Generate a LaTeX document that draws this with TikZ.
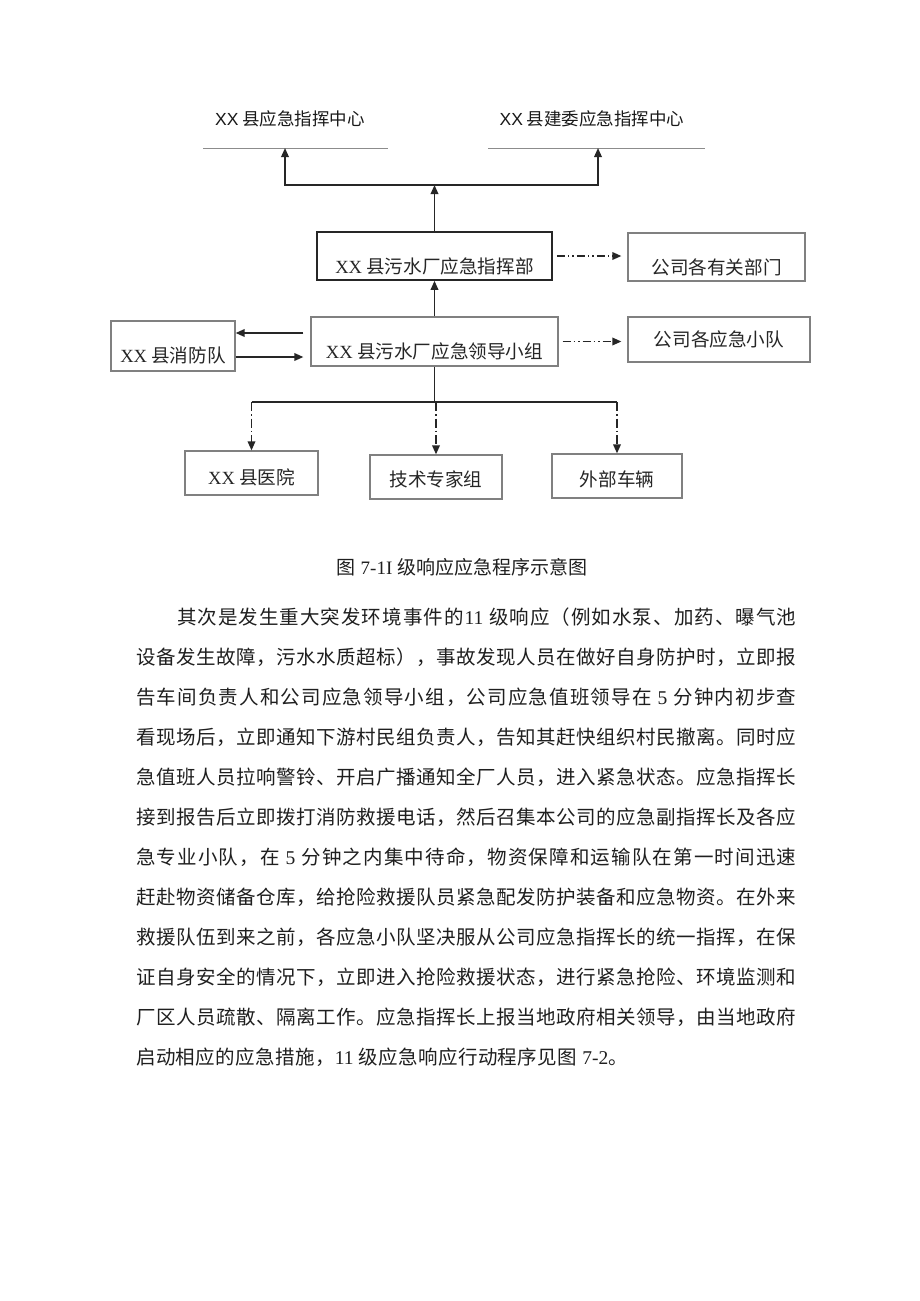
\documentclass[tikz,border=0pt]{standalone}
\usepackage{fontspec}
\newfontfamily\cjk{Noto Sans CJK SC}
\newfontfamily\lat{Liberation Serif}
\newfontfamily\lsans{Liberation Sans}
\usetikzlibrary{arrows.meta,calc}
\def\spread#1{\spreadA#1\relax}
\def\spreadA#1{#1\spreadB}
\def\spreadB#1{\ifx\relax#1\else\hfil#1\expandafter\spreadB\fi}
\tikzset{
  box/.style={draw=black!50, line width=1.2pt, inner sep=0pt},
  cmdbox/.style={draw=black!85, line width=1.6pt, inner sep=0pt},
  boxtxt/.style={font=\fontsize{18.6}{20}\selectfont\cjk, text=black!85},
  toplbl/.style={font=\fontsize{17.5}{20}\selectfont\cjk, text=black!90, inner sep=0pt},
  grayline/.style={draw=black!45, line width=0.9pt},
  line/.style={draw=black!85, line width=1.7pt},
  arr/.style={line, -{Triangle[length=9pt,width=7.5pt]}},
  dasharr/.style={arr, dash pattern=on 8pt off 3pt on 1.5pt off 3pt on 1.5pt off 3pt},
  vdash/.style={arr, dash pattern=on 9pt off 3pt on 1.5pt off 3pt},
  body/.style={font=\fontsize{19.5}{20}\selectfont\cjk, text=black!88, inner sep=0pt, anchor=west},
}
\begin{document}
\begin{tikzpicture}[x=1pt,y=-1pt]
\useasboundingbox[fill=white] (0,0) rectangle (920,1301);
% top labels
\node[toplbl] (c1) at (290,119) {{\lsans XX} 县应急指挥中心};
\node[toplbl] (c2) at (592,119) {{\lsans XX} 县建委应急指挥中心};
\coordinate (u1a) at (203,148); \coordinate (u1b) at (388,148);
\coordinate (u2a) at (488,148); \coordinate (u2b) at (705,148);
\draw[grayline] (u1a) -- (u1b);
\draw[grayline] (u2a) -- (u2b);
\coordinate (t1) at (285,148);
\coordinate (t2) at (598,148);
\coordinate (j) at (434.5,185);
% boxes
\node[cmdbox, minimum width=235pt, minimum height=48pt,
  label={[boxtxt,yshift=-10pt]center:{\lat XX} 县污水厂应急指挥部}] (cmd) at (434.5,256) {};
\node[box, minimum width=177pt, minimum height=48pt,
  label={[boxtxt,yshift=-10pt]center:公司各有关部门}] (dep) at (716.5,257) {};
\node[box, minimum width=247pt, minimum height=49pt,
  label={[boxtxt,yshift=-10pt]center:{\lat XX} 县污水厂应急领导小组}] (lead) at (434.5,341.5) {};
\node[box, minimum width=182pt, minimum height=45pt,
  label={[boxtxt]center:公司各应急小队}] (squad) at (719,339.5) {};
\node[box, minimum width=124pt, minimum height=50pt,
  label={[boxtxt,yshift=-9pt]center:{\lat XX} 县消防队}] (fire) at (173,346) {};
\node[box, minimum width=133pt, minimum height=44pt,
  label={[boxtxt,yshift=-4pt]center:{\lat XX} 县医院}] (hosp) at (251.5,473) {};
\node[box, minimum width=132pt, minimum height=44pt,
  label={[boxtxt,yshift=-2pt]center:技术专家组}] (tech) at (436,477) {};
\node[box, minimum width=130pt, minimum height=44pt,
  label={[boxtxt,yshift=-3pt]center:外部车辆}] (ext) at (617,476) {};
% connectors
\draw[arr] (cmd.north) -- (j);
\draw[arr] (j) -| (t1);
\draw[arr] (j) -| (t2);
\draw[arr] (lead.north) -- (cmd.south);
\draw[dasharr] ([xshift=4pt]cmd.east) -- ([xshift=-6pt]dep.west |- cmd.east);
\draw[dasharr] ([xshift=4pt]lead.east) -- ([xshift=-6pt]squad.west |- lead.east);
\draw[arr] ([shift={(-7,-8.5)}]lead.west) -- ([shift={(0,-13)}]fire.east);
\draw[arr] ([shift={(0,11)}]fire.east) -- ([shift={(-7,15.5)}]lead.west);
\coordinate (h) at (434.5,402);
\draw[line] (lead.south) -- (lead.south |- h);
\draw[line] (hosp.north |- h) -- (ext.north |- h);
\draw[vdash] (hosp.north |- h) -- (hosp.north);
\draw[vdash] (tech.north |- h) -- (tech.north);
\draw[vdash] (ext.north |- h) -- (ext.north);
% caption
\node[font=\fontsize{19}{20}\selectfont\cjk, text=black!88, inner sep=0pt] (cap) at (462,567) {图{\lat\ 7-1I }级响应应急程序示意图};
% body text
\node[body] (l1) at (177,617) {\hbox to 619pt{\spread{其次是发生重大突发环境事件的{{\lat 11 }}级响应（例如水泵、加药、曝气池}}};
\node[body] (l2) at (136,657) {\hbox to 660pt{\spread{设备发生故障，污水水质超标），事故发现人员在做好自身防护时，立即报}}};
\node[body] (l3) at (136,697) {\hbox to 660pt{\spread{告车间负责人和公司应急领导小组，公司应急值班领导在{{\lat\ 5 }}分钟内初步查}}};
\node[body] (l4) at (136,737) {\hbox to 660pt{\spread{看现场后，立即通知下游村民组负责人，告知其赶快组织村民撤离。同时应}}};
\node[body] (l5) at (136,777) {\hbox to 660pt{\spread{急值班人员拉响警铃、开启广播通知全厂人员，进入紧急状态。应急指挥长}}};
\node[body] (l6) at (136,817) {\hbox to 660pt{\spread{接到报告后立即拨打消防救援电话，然后召集本公司的应急副指挥长及各应}}};
\node[body] (l7) at (136,857) {\hbox to 660pt{\spread{急专业小队，在{{\lat\ 5 }}分钟之内集中待命，物资保障和运输队在第一时间迅速}}};
\node[body] (l8) at (136,897) {\hbox to 660pt{\spread{赶赴物资储备仓库，给抢险救援队员紧急配发防护装备和应急物资。在外来}}};
\node[body] (l9) at (136,937) {\hbox to 660pt{\spread{救援队伍到来之前，各应急小队坚决服从公司应急指挥长的统一指挥，在保}}};
\node[body] (l10) at (136,977) {\hbox to 660pt{\spread{证自身安全的情况下，立即进入抢险救援状态，进行紧急抢险、环境监测和}}};
\node[body] (l11) at (136,1017) {\hbox to 660pt{\spread{厂区人员疏散、隔离工作。应急指挥长上报当地政府相关领导，由当地政府}}};
\node[body] (l12) at (136,1057) {\hbox to 492pt{\spread{启动相应的应急措施，{{\lat 11 }}级应急响应行动程序见图{{\lat\ 7-2}}。}}};
\end{tikzpicture}
\end{document}
